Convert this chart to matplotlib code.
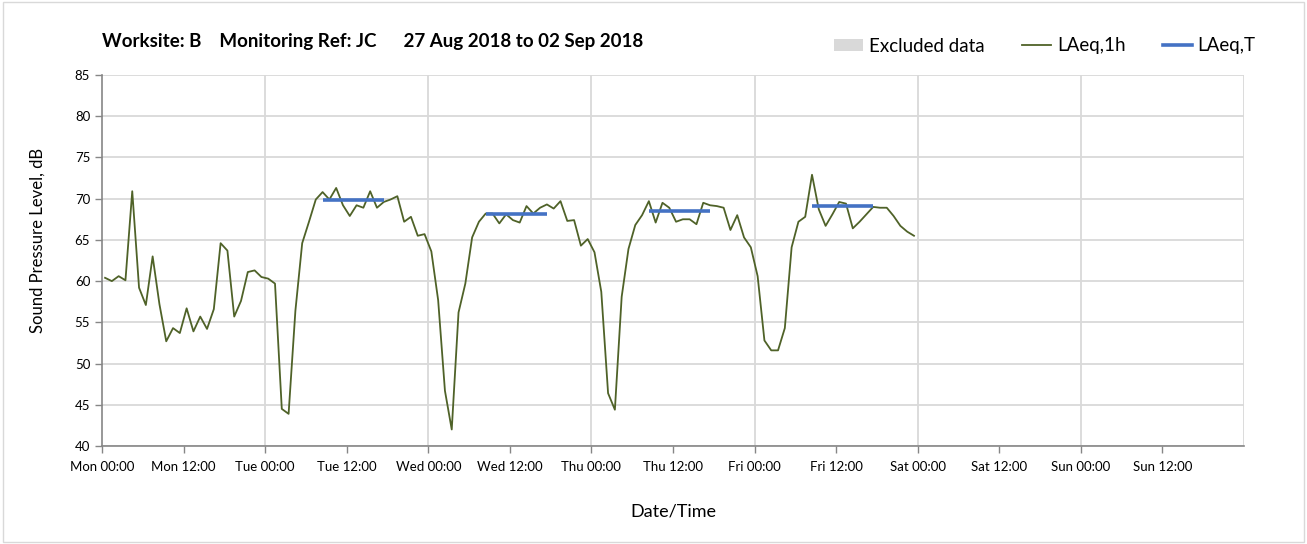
import numpy as np
import matplotlib
matplotlib.use("Agg")
import matplotlib.pyplot as plt
from matplotlib.lines import Line2D
from matplotlib.patches import Patch, Rectangle

plt.rcParams['font.family'] = ['Lato', 'DejaVu Sans']

# hourly LAeq values, Mon 00:00 .. Fri 23:00
laeq_1h = [
    60.4, 60.0, 60.6, 60.1, 70.9, 59.2, 57.1, 63.0, 57.2, 52.7, 54.3, 53.7,
    56.7, 53.9, 55.7, 54.2, 56.6, 64.6, 63.7, 55.7, 57.6, 61.1, 61.3, 60.5,
    60.3, 59.7, 44.5, 43.9, 56.4, 64.6, 67.2, 69.9, 70.8, 69.9, 71.3, 69.2,
    67.9, 69.2, 68.9, 70.9, 68.9, 69.6, 69.9, 70.3, 67.2, 67.8, 65.5, 65.7,
    63.6, 57.7, 46.7, 42.0, 56.2, 59.7, 65.3, 67.2, 68.2, 68.2, 67.0, 68.1,
    67.4, 67.1, 69.1, 68.2, 68.9, 69.3, 68.8, 69.7, 67.3, 67.4, 64.3, 65.1,
    63.5, 58.7, 46.4, 44.4, 58.1, 63.9, 66.8, 68.0, 69.7, 67.1, 69.5, 68.9,
    67.2, 67.5, 67.5, 66.9, 69.5, 69.2, 69.1, 68.9, 66.2, 68.0, 65.3, 64.1,
    60.6, 52.8, 51.6, 51.6, 54.3, 64.1, 67.2, 67.8, 72.9, 68.7, 66.7, 68.1,
    69.6, 69.4, 66.4, 67.2, 68.1, 69.0, 68.9, 68.9, 67.9, 66.7, 66.0, 65.5,
]
start_offset = 0.45  # hours after midnight of first sample

# period LAeq,T (08:00-18:00) per weekday
laeq_t_days = [1, 2, 3, 4]  # Tue..Fri
laeq_t_values = [69.8, 68.2, 68.5, 69.1]
period_start, period_end = 8, 17

day_names = ["Mon", "Tue", "Wed", "Thu", "Fri", "Sat", "Sun"]
y_ticks = [40, 45, 50, 55, 60, 65, 70, 75, 80, 85]

W, H = 1307, 544
fig = plt.figure(figsize=(W / 100, H / 100), dpi=100)
fig.patches.append(Rectangle((0.002, 0.003), 0.996, 0.994, transform=fig.transFigure,
                             fill=False, edgecolor="#d9d9d9", lw=1))
ax = fig.add_axes([102 / W, 1 - 446 / H, (1244 - 102) / W, (446 - 75) / H])

hours = start_offset + np.arange(len(laeq_1h))
ax.plot(hours, laeq_1h, color="#4f6228", lw=1.3, zorder=3)

for d, v in zip(laeq_t_days, laeq_t_values):
    ax.plot([d * 24 + period_start + start_offset, d * 24 + period_end + start_offset],
            [v, v], color="#4472c4", lw=2.6, solid_capstyle="butt", zorder=4)

ax.set_xlim(0, 24 * len(day_names))
ax.set_ylim(y_ticks[0], y_ticks[-1])
ax.set_yticks(y_ticks)
xt = np.arange(0, 24 * len(day_names), 12)
ax.set_xticks(xt)
ax.set_xticklabels([f"{day_names[int(t // 24)]} {int(t % 24):02d}:00" for t in xt])

ax.grid(axis="y", color="#d9d9d9", lw=1.3)
for d in range(1, len(day_names) + 1):
    ax.axvline(d * 24, color="#d9d9d9", lw=1.3, zorder=0)
ax.set_axisbelow(True)

for s in ["top", "right"]:
    ax.spines[s].set_visible(False)
for s in ["left", "bottom"]:
    ax.spines[s].set_color("#868686")
    ax.spines[s].set_linewidth(1.2)
ax.tick_params(axis="both", colors="#868686", length=5, width=1, labelsize=9.5,
               labelcolor="#000000")
ax.tick_params(axis="x", pad=6)

ax.set_ylabel("Sound Pressure Level, dB", fontsize=12, va="center")
ax.yaxis.set_label_coords(-0.056, 0.553)
ax.set_xlabel("Date/Time", fontsize=13, labelpad=22)

fig.text(102 / W, 1 - 41 / H,
         "Worksite: B    Monitoring Ref: JC      27 Aug 2018 to 02 Sep 2018",
         fontsize=13.5, fontweight="bold", va="center", ha="left")

handles = [Patch(facecolor="#d9d9d9", edgecolor="none"),
           Line2D([], [], color="#4f6228", lw=1.3),
           Line2D([], [], color="#4472c4", lw=2.6)]
fig.legend(handles, ["Excluded data", "LAeq,1h", "LAeq,T"], loc="center",
           bbox_to_anchor=(1045 / W, 1 - 46 / H), ncol=3, frameon=False,
           fontsize=13.5, handlelength=1.55, handletextpad=0.3, columnspacing=2.0,
           handleheight=0.55)

fig.savefig("out.png", dpi=100)
